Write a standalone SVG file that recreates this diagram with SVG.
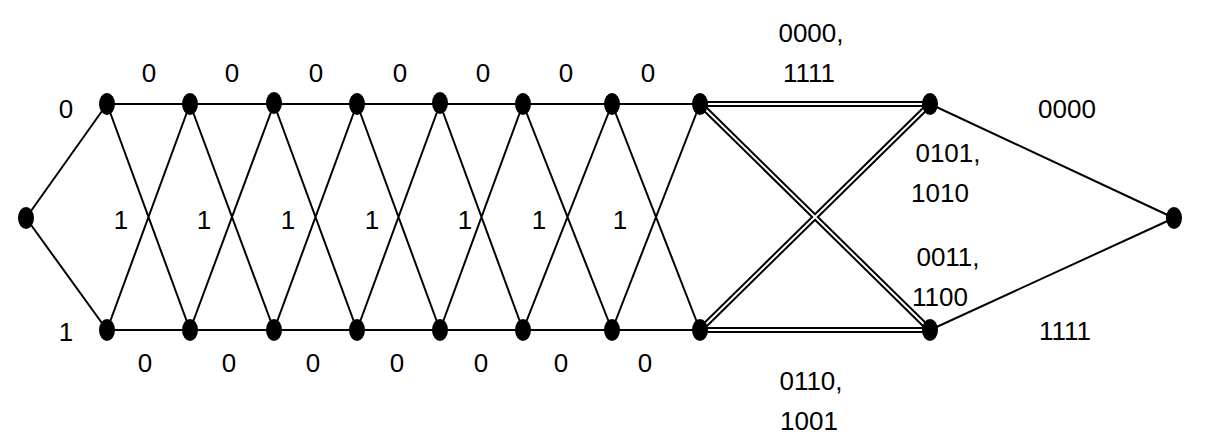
<svg xmlns="http://www.w3.org/2000/svg" width="1205" height="443" viewBox="0 0 1205 443">
<style>
.e{stroke:#000;stroke-width:2;fill:none}
.d1{stroke:#000;stroke-width:6;fill:none}
.d2{stroke:#fff;stroke-width:2;fill:none}
.n{fill:#000}
text{font-family:"Liberation Sans",Arial,sans-serif;font-size:26px;fill:#000;text-anchor:middle}
</style>
<rect width="1205" height="443" fill="#fff"/>
<g id="connectors">
<path class="e" d="M26 218L107 104M26 218L107 330M107 104H700M107 330H700
M107 104L190 330M107 330L190 104M190 104L274 330M190 330L274 104M274 104L357 330M274 330L357 104M357 104L440 330M357 330L440 104M440 104L523 330M440 330L523 104M523 104L612 330M523 330L612 104M612 104L700 330M612 330L700 104
M930 104L1174 218M930 330L1174 218"/>
<path class="d1" d="M700 104H930M700 330H930M700 104L930 330M700 330L930 104"/>
<path class="d2" d="M700 104H930M700 330H930M700 104L930 330M700 330L930 104"/>
</g>
<g id="n0"><ellipse class="n" cx="26" cy="218" rx="8" ry="11"/></g>
<g id="t1"><ellipse class="n" cx="107" cy="104" rx="8" ry="11"/></g>
<g id="t2"><ellipse class="n" cx="190" cy="104" rx="8" ry="11"/></g>
<g id="t3"><ellipse class="n" cx="274" cy="103" rx="8" ry="11"/></g>
<g id="t4"><ellipse class="n" cx="357" cy="104" rx="8" ry="11"/></g>
<g id="t5"><ellipse class="n" cx="440" cy="103" rx="8" ry="11"/></g>
<g id="t6"><ellipse class="n" cx="523" cy="104" rx="8" ry="11"/></g>
<g id="t7"><ellipse class="n" cx="612" cy="104" rx="8" ry="11"/></g>
<g id="t8"><ellipse class="n" cx="700" cy="104" rx="8" ry="11"/></g>
<g id="t9"><ellipse class="n" cx="930" cy="104" rx="8" ry="11"/></g>
<g id="b1"><ellipse class="n" cx="107" cy="330" rx="8" ry="11"/></g>
<g id="b2"><ellipse class="n" cx="190" cy="330" rx="8" ry="11"/></g>
<g id="b3"><ellipse class="n" cx="274" cy="330" rx="8" ry="11"/></g>
<g id="b4"><ellipse class="n" cx="357" cy="330" rx="8" ry="11"/></g>
<g id="b5"><ellipse class="n" cx="440" cy="330" rx="8" ry="11"/></g>
<g id="b6"><ellipse class="n" cx="523" cy="330" rx="8" ry="11"/></g>
<g id="b7"><ellipse class="n" cx="612" cy="330" rx="8" ry="11"/></g>
<g id="b8"><ellipse class="n" cx="700" cy="330" rx="8" ry="11"/></g>
<g id="b9"><ellipse class="n" cx="930" cy="330" rx="8" ry="11"/></g>
<g id="nEnd"><ellipse class="n" cx="1174" cy="218" rx="8" ry="11"/></g>
<g id="labels">
<text x="66" y="118">0</text>
<text x="66" y="341">1</text>
<text x="149" y="82">0</text><text x="232" y="82">0</text><text x="316" y="82">0</text><text x="400" y="82">0</text><text x="483" y="82">0</text><text x="566" y="82">0</text><text x="648" y="82">0</text>
<text x="121" y="229">1</text><text x="204" y="229">1</text><text x="288" y="229">1</text><text x="372" y="229">1</text><text x="465" y="229">1</text><text x="539" y="229">1</text><text x="620" y="229">1</text>
<text x="145" y="372">0</text><text x="229" y="372">0</text><text x="313" y="372">0</text><text x="397" y="372">0</text><text x="481" y="372">0</text><text x="561" y="372">0</text><text x="645" y="372">0</text>
<text x="811" y="42">0000,</text><text x="809" y="82">1111</text>
<text x="948" y="162">0101,</text><text x="940" y="202">1010</text>
<text x="948" y="266">0011,</text><text x="940" y="306">1100</text>
<text x="811" y="390">0110,</text><text x="809" y="430">1001</text>
<text x="1067" y="118">0000</text>
<text x="1065" y="340">1111</text>
</g>
</svg>
